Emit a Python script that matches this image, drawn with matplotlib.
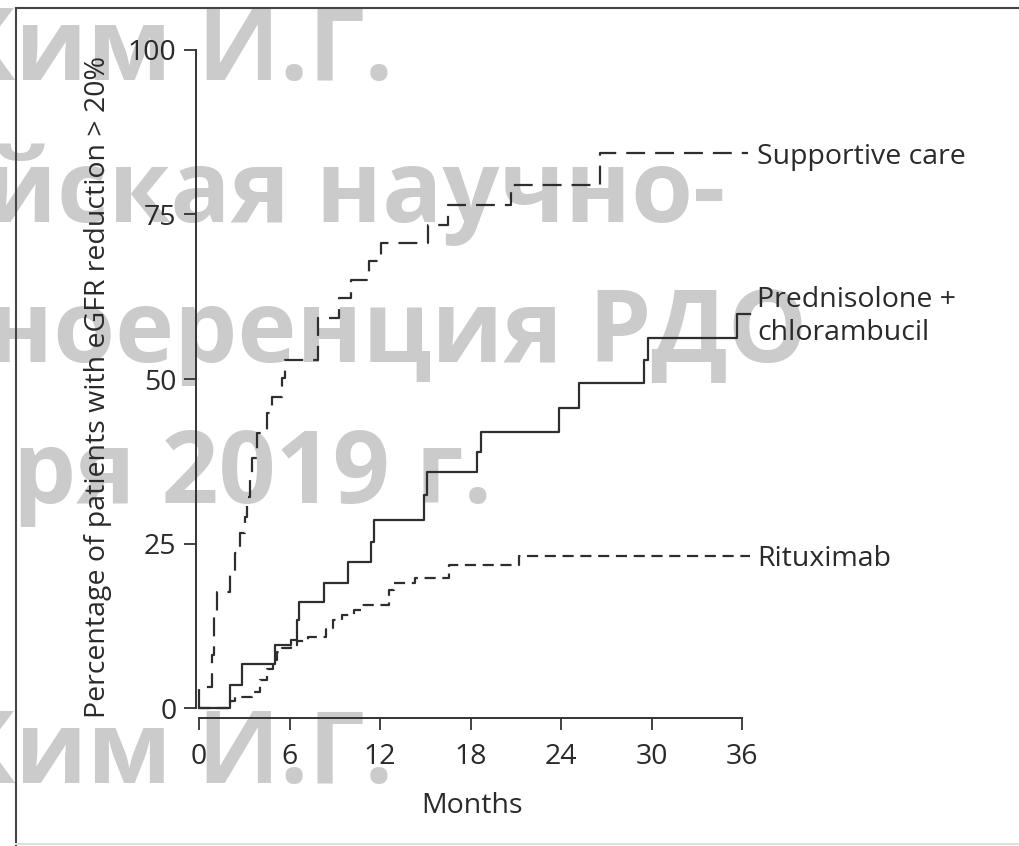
import matplotlib
matplotlib.use('Agg')
import matplotlib.pyplot as plt
from matplotlib.lines import Line2D

plt.rcParams['font.family'] = ['Open Sans', 'DejaVu Sans']

# Step curves (months, % with eGFR reduction > 20%)
supportive_t = [0, 0, 0.87, 1.0, 1.2, 2.07, 2.4, 2.73, 3.07, 3.2, 3.4, 3.5, 3.87, 4.5, 4.87,
                5.5, 5.7, 7.9, 9.27, 10.07, 11.27, 12.07, 15.2, 16.5, 20.7, 26.6]
supportive_v = [0, 3.2, 8, 14, 17.6, 20.7, 23.5, 26.6, 29, 32, 35, 38, 41.8, 44.8, 47.3,
                50.1, 52.9, 59.3, 62.3, 65, 68, 70.7, 73.4, 76.4, 79.5, 84.3]
supportive_end = 36.4

pred_t = [0, 2.07, 2.87, 5.07, 6.1, 6.5, 6.6, 8.27, 9.87, 11.4, 11.6, 14.9, 15.1,
          18.4, 18.7, 23.9, 25.2, 29.5, 29.8, 35.7]
pred_v = [0, 3.5, 6.7, 9.6, 10.3, 13.4, 16.1, 19, 22.2, 25.2, 28.6, 32.4, 35.9,
          38.9, 42, 45.6, 49.4, 52.9, 56.2, 59.9]
pred_end = 36.5

ritux_t = [0, 2.07, 2.4, 3.5, 4.07, 4.5, 4.9, 5.2, 5.5, 6.07, 6.5, 7.2, 8.4, 8.9,
           9.5, 10.3, 10.8, 12.6, 12.9, 14.3, 16.6, 21.2]
ritux_v = [0, 1.0, 1.7, 2.4, 4.2, 6.0, 7.3, 8.5, 9.1, 9.6, 10.2, 10.8, 12.2, 13.4,
           14.1, 14.9, 15.7, 17.9, 19.0, 19.8, 21.7, 23.1]
ritux_end = 36.5

x_ticks = [0, 6, 12, 18, 24, 30, 36]
y_ticks = [0, 25, 50, 75, 100]

W, H = 1019, 846
fig = plt.figure(figsize=(W / 100, H / 100), dpi=100)
ax = fig.add_axes([199 / W, (H - 708) / H, 543 / W, 658 / H])
ax.patch.set_visible(False)

line_col = '#2e2e2e'
txt_col = '#2a2a2a'
fs = 20.5

def draw_step(t, v, end, **kw):
    ax.step(t + [end], v + [v[-1]], where='post', color=line_col, lw=1.6,
            clip_on=False, **kw)

draw_step(supportive_t, supportive_v, supportive_end, linestyle=(0, (8.5, 4.5)))
draw_step(pred_t, pred_v, pred_end, linestyle='-')
draw_step(ritux_t, ritux_v, ritux_end, linestyle=(0, (5, 3)))

ax.set_xlim(0, 36)
ax.set_ylim(0, 100)
ax.set_xticks(x_ticks)
ax.set_yticks(y_ticks)
for s in ['top', 'right']:
    ax.spines[s].set_visible(False)
ax.spines['bottom'].set_position(('outward', 7.5))
ax.spines['left'].set_position(('outward', 2.2))
for s in ['bottom', 'left']:
    ax.spines[s].set_color('#333333')
    ax.spines[s].set_linewidth(1.4)
ax.tick_params(direction='out', length=8.5, width=1.3, colors='#333333',
               labelsize=fs, labelcolor=txt_col)
ax.tick_params(axis='x', pad=9)
ax.tick_params(axis='y', pad=5.5)

ax.set_ylabel('Percentage of patients with eGFR reduction > 20%', fontsize=fs, color=txt_col)
ax.yaxis.set_label_coords(-0.16, 0.488)
ax.set_xlabel('Months', fontsize=fs, color=txt_col)
ax.xaxis.set_label_coords(0.503, -0.127)

ax.text(37.0, 83.7, 'Supportive care', fontsize=fs, color=txt_col, va='center', clip_on=False)
ax.text(37.0, 62.0, 'Prednisolone +', fontsize=fs, color=txt_col, va='center', clip_on=False)
ax.text(37.0, 57.0, 'chlorambucil', fontsize=fs, color=txt_col, va='center', clip_on=False)
ax.text(37.0, 22.6, 'Rituximab', fontsize=fs, color=txt_col, va='center', clip_on=False)

# watermark, behind the chart
wm = [('Ким И.Г.', 393, 80), ('йская научно-', 725, 222), ('ноеренция РДО', 807, 362),
      ('ря 2019 г.', 492, 503), ('Ким И.Г.', 393, 783)]
for s, xr, yb in wm:
    fig.text(xr / W, 1 - yb / H, s, ha='right', va='baseline', fontsize=72,
             fontweight='bold', color='#cbcbcb', zorder=-5)

# frame around the picture
fig.add_artist(Line2D([16 / W, 16 / W], [0, 1 - 8 / H], transform=fig.transFigure,
                      color='#444444', lw=1.5))
fig.add_artist(Line2D([16 / W, 1], [1 - 8 / H, 1 - 8 / H], transform=fig.transFigure,
                      color='#444444', lw=1.5))
fig.add_artist(Line2D([16 / W, 1], [2 / H, 2 / H], transform=fig.transFigure,
                      color='#dddddd', lw=1.5))

fig.savefig('out.png', dpi=100)
